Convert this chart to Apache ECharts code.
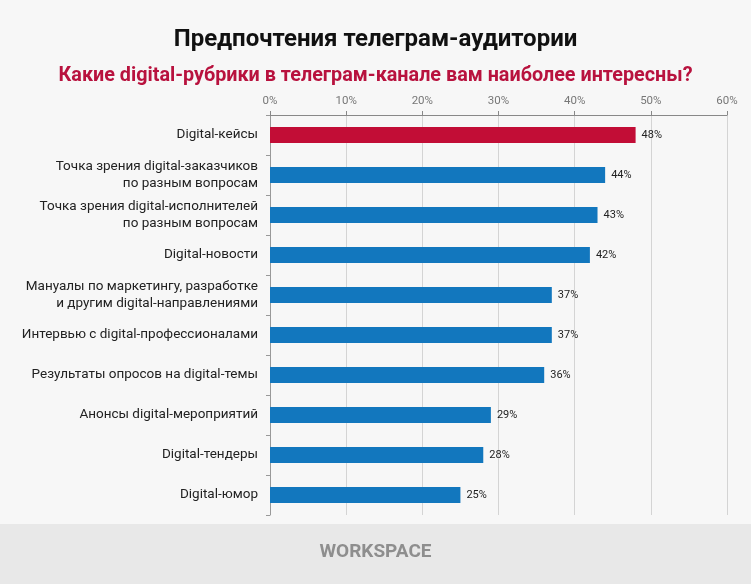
<!DOCTYPE html>
<html><head><meta charset="utf-8">
<script src="https://cdn.jsdelivr.net/npm/echarts@6/dist/echarts.min.js"></script>
<style>html,body{margin:0;padding:0;background:#f7f7f7;}#c{width:751px;height:584px;}</style>
</head><body><div id="c"></div>
<script>
var categories = [
  'Digital-кейсы',
  'Точка зрения digital-заказчиков\nпо разным вопросам',
  'Точка зрения digital-исполнителей\nпо разным вопросам',
  'Digital-новости',
  'Мануалы по маркетингу, разработке\nи другим digital-направлениями',
  'Интервью с digital-профессионалами',
  'Результаты опросов на digital-темы',
  'Анонсы digital-мероприятий',
  'Digital-тендеры',
  'Digital-юмор'
];
var values = [48, 44, 43, 42, 37, 37, 36, 29, 28, 25];
var highlightIndex = 0;

var chart = echarts.init(document.getElementById('c'));
chart.setOption({
  backgroundColor: '#f7f7f7',
  animation: false,
  title: [
    {text: 'Предпочтения телеграм-аудитории', left: 'center', top: 23,
     textStyle: {fontFamily: 'Roboto', fontSize: 24, fontWeight: 'bold', color: '#111'}},
    {text: 'Какие digital-рубрики в телеграм-канале вам наиболее интересны?', left: 'center', top: 61,
     textStyle: {fontFamily: 'Roboto', fontSize: 19.8, fontWeight: 'bold', color: '#b8123e'}}
  ],
  graphic: [
    {type: 'rect', left: 0, top: 524, shape: {width: 751, height: 60}, style: {fill: '#e8e8e8'}, z: -1},
    {type: 'text', left: 'center', top: 543, style: {text: 'WORKSPACE', fill: '#8e8e8e', font: 'bold 19px Roboto'}}
  ],
  grid: {left: 270, right: 24, top: 115, bottom: 69},
  xAxis: {
    type: 'value', position: 'top', min: 0, max: 60, interval: 10,
    axisLine: {show: true, lineStyle: {color: '#888'}},
    axisTick: {show: true, length: 4, lineStyle: {color: '#888'}},
    axisLabel: {formatter: '{value}%', color: '#777', fontFamily: 'Roboto', fontSize: 11.5, margin: 8},
    splitLine: {show: true, lineStyle: {color: '#d4d4d4'}}
  },
  yAxis: {
    type: 'category', inverse: true, data: categories,
    axisLine: {show: true, lineStyle: {color: '#999'}},
    axisTick: {show: true, length: 4, lineStyle: {color: '#999'}},
    axisLabel: {color: '#222', fontFamily: 'Roboto', fontSize: 13.5, margin: 12, lineHeight: 17}
  },
  series: [{
    type: 'bar', barWidth: 16,
    data: values.map(function (v, i) {
      return {value: v, itemStyle: {color: i === highlightIndex ? '#c20d36' : '#1277be'}};
    }),
    label: {show: true, position: 'right', formatter: '{c}%', color: '#222', fontFamily: 'Roboto', fontSize: 11, distance: 6}
  }]
});
</script></body></html>
